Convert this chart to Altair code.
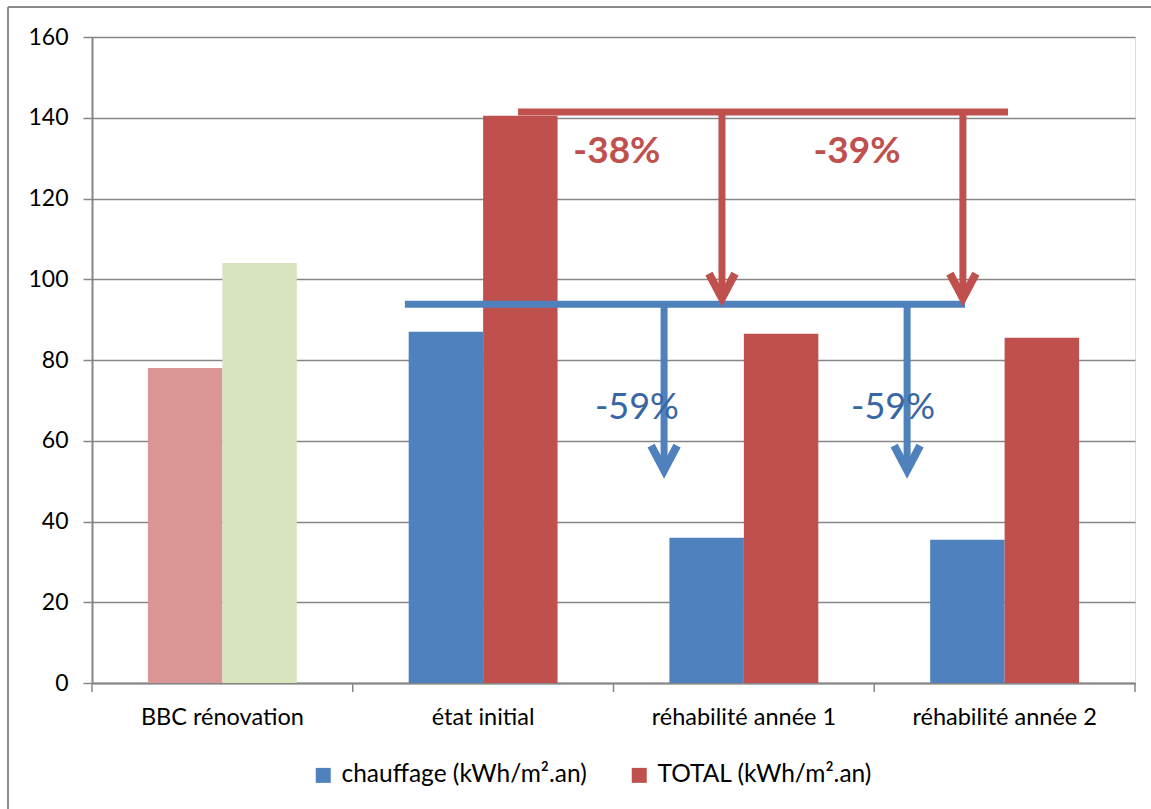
import altair as alt
import pandas as pd

# ---- data ----
categories = ["BBC rénovation", "état initial", "réhabilité année 1", "réhabilité année 2"]
chauffage = [78, 87, 36, 35.5]
total = [104, 140.5, 86.5, 85.5]
series_names = ["chauffage (kWh/m².an)", "TOTAL (kWh/m².an)"]
bbc_series = ["BBC chauffage", "BBC TOTAL"]
series_colors = ["#4F81BD", "#C0504D", "#D99694", "#D7E4BD"]
y_ticks = [0, 20, 40, 60, 80, 100, 120, 140, 160]

# annotation arrows (x in category units: 0 = left edge, 4 = right edge)
red_level = 141.4
red_span = [1.634, 3.513]
red_arrow_x = [2.416, 3.340]
red_tip = 95.3
blue_level = 93.8
blue_span = [1.200, 3.348]
blue_arrow_x = [2.194, 3.126]
blue_tip = 52.7
red_labels = ["-38%", "-39%"]
red_label_x = [2.013, 2.934]
red_label_y = 131.5
blue_labels = ["-59%", "-59%"]
blue_label_x = [2.090, 3.072]
blue_label_y = 68.0
tick_positions = [0, 1, 2, 3, 4]

RED = "#C0504D"
BLUE = "#4F81BD"
BLUE_TXT = "#3766A2"
GRAY = "#868686"
FONT = "Lato"

rows = []
for i, c in enumerate(categories):
    for k, (kind, val) in enumerate([("chauffage", chauffage[i]), ("total", total[i])]):
        serie = bbc_series[k] if i == 0 else series_names[k]
        rows.append({"cat": c, "kind": kind, "value": val, "serie": serie})
df = pd.DataFrame(rows)

y_scale = alt.Scale(domain=[0, 160], nice=False)
y_axis = alt.Axis(values=y_ticks, grid=True, title=None,
                  gridColor=GRAY, gridWidth=1.3, domainColor=GRAY, domainWidth=2,
                  tickColor=GRAY, tickSize=9, tickWidth=1.5,
                  labelFontSize=23, labelFont=FONT, labelColor="#000000",
                  labelPadding=15)

bars = alt.Chart(df).mark_bar().encode(
    x=alt.X("cat:N", sort=categories, title=None,
            scale=alt.Scale(paddingInner=0.429, paddingOuter=0.2145),
            axis=alt.Axis(labelAngle=0, ticks=False, domainColor=GRAY, domainWidth=2,
                          labelFontSize=23.5, labelFont=FONT, labelColor="#000000",
                          labelPadding=22, grid=False, labelLimit=400)),
    xOffset=alt.XOffset("kind:N", scale=alt.Scale(paddingInner=0, paddingOuter=0)),
    y=alt.Y("value:Q", scale=y_scale, title=None, axis=y_axis),
    color=alt.Color("serie:N",
                    scale=alt.Scale(domain=series_names + bbc_series, range=series_colors),
                    legend=alt.Legend(values=series_names, title=None, orient="none",
                                      legendX=219, legendY=726, direction="horizontal",
                                      symbolType="square", symbolSize=225,
                                      symbolStrokeWidth=0, labelFontSize=24.5,
                                      labelFont=FONT, labelColor="#000000",
                                      columnPadding=40, labelOffset=6,
                                      labelLimit=400)),
)

# lines of the annotation arrows
line_rows = [{"x": red_span[0], "x2": red_span[1], "y": red_level, "y2": red_level, "c": RED},
             {"x": blue_span[0], "x2": blue_span[1], "y": blue_level, "y2": blue_level, "c": BLUE}]
for ax in red_arrow_x:
    line_rows.append({"x": ax, "x2": ax, "y": red_level, "y2": red_tip + 1.5, "c": RED})
for ax in blue_arrow_x:
    line_rows.append({"x": ax, "x2": ax, "y": blue_level, "y2": blue_tip + 1.5, "c": BLUE})
lines_df = pd.DataFrame(line_rows)

head_rows = [{"x": ax, "y": red_tip, "c": RED} for ax in red_arrow_x] + \
            [{"x": ax, "y": blue_tip, "c": BLUE} for ax in blue_arrow_x]
heads_df = pd.DataFrame(head_rows)

text_rows = [{"x": x, "y": red_label_y, "t": t} for x, t in zip(red_label_x, red_labels)]
text_blue_rows = [{"x": x, "y": blue_label_y, "t": t} for x, t in zip(blue_label_x, blue_labels)]

xq = alt.Scale(domain=[0, 4], nice=False, zero=False)

lines = alt.Chart(lines_df).mark_rule(strokeWidth=7, strokeCap="butt").encode(
    x=alt.X("x:Q", scale=xq, axis=None),
    x2="x2:Q",
    y=alt.Y("y:Q", scale=y_scale, axis=y_axis),
    y2="y2:Q",
    color=alt.Color("c:N", scale=None),
)

heads = alt.Chart(heads_df).mark_point(
    shape="M -1 -1.9 L 0 0 L 1 -1.9", filled=False, strokeWidth=8,
    strokeJoin="miter", strokeCap="butt", size=676, opacity=1,
).encode(
    x=alt.X("x:Q", scale=xq, axis=None),
    y=alt.Y("y:Q", scale=y_scale, axis=y_axis),
    color=alt.Color("c:N", scale=None),
)

red_text = alt.Chart(pd.DataFrame(text_rows)).mark_text(
    font=FONT, fontSize=37, fontWeight="bold", color=RED, baseline="middle", align="center"
).encode(
    x=alt.X("x:Q", scale=xq, axis=None),
    y=alt.Y("y:Q", scale=y_scale, axis=y_axis),
    text="t:N",
)

blue_text = alt.Chart(pd.DataFrame(text_blue_rows)).mark_text(
    font=FONT, fontSize=36, color=BLUE_TXT, baseline="middle", align="center"
).encode(
    x=alt.X("x:Q", scale=xq, axis=None),
    y=alt.Y("y:Q", scale=y_scale, axis=y_axis),
    text="t:N",
)

ticks = alt.Chart(pd.DataFrame({"x": tick_positions})).mark_rule(
    color=GRAY, strokeWidth=1.5
).encode(
    x=alt.X("x:Q", scale=xq, axis=None),
    y=alt.value(646),
    y2=alt.value(655),
)

one_row = alt.Data(values=[{"a": 1}])
frame_left = alt.Chart(one_row).mark_rule(color="#8C8C8C", strokeWidth=2).encode(
    x=alt.value(-84), y=alt.value(-30), y2=alt.value(790),
)
frame_top = alt.Chart(one_row).mark_rule(color="#8C8C8C", strokeWidth=2).encode(
    x=alt.value(-84), x2=alt.value(1070), y=alt.value(-30),
)

annot = alt.layer(ticks, lines, heads, red_text, blue_text, frame_left, frame_top)

chart = alt.layer(bars, annot).resolve_scale(
    x="independent", color="independent"
).properties(
    width=1043, height=646,
    padding={"left": 92, "top": 37, "right": 16, "bottom": 126},
    autosize=alt.AutoSizeParams(type="none"),
    background="#FFFFFF",
).configure_view(stroke="transparent", strokeWidth=0).configure(font=FONT)

chart.save("out.html", embed_options={"renderer": "svg", "actions": False})
